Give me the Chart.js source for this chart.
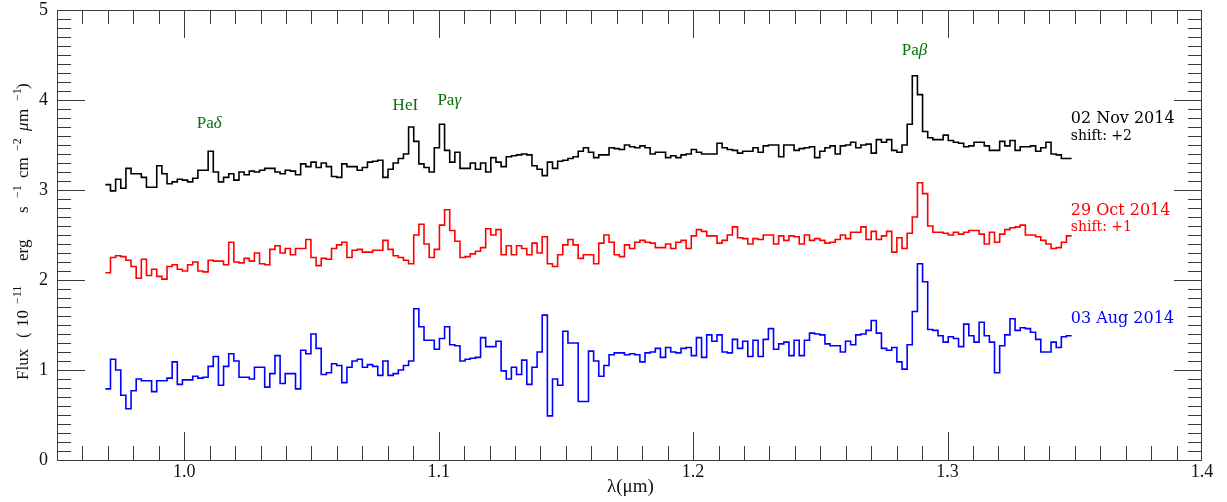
<!DOCTYPE html>
<html>
<head>
<meta charset="utf-8">
<script src="https://cdn.jsdelivr.net/npm/chart.js@4"></script>
<style>
  body { margin: 0; background: #fff; }
  #myChart { display: block; }
</style>
</head>
<body>
<canvas id="myChart" width="1227" height="502"></canvas>
<script>
// wavelength grid of the binned spectra (micron)
var lambdaStart = 0.969;
var binWidth = 0.00202;

// 02 Nov 2014, already shifted by +2
var fluxNov02 = [3.06,2.99,3.12,3.02,3.24,3.18,3.18,3.14,3.03,3.03,
  3.27,3.18,3.07,3.09,3.12,3.11,3.09,3.13,3.22,3.22,
  3.43,3.20,3.09,3.14,3.18,3.11,3.20,3.17,3.21,3.20,
  3.22,3.24,3.24,3.20,3.18,3.22,3.21,3.17,3.29,3.26,
  3.31,3.25,3.30,3.26,3.15,3.14,3.29,3.26,3.26,3.22,
  3.25,3.31,3.32,3.33,3.14,3.23,3.30,3.35,3.40,3.70,
  3.54,3.29,3.25,3.20,3.47,3.73,3.44,3.31,3.42,3.24,
  3.24,3.30,3.23,3.30,3.20,3.36,3.31,3.26,3.37,3.38,
  3.39,3.40,3.39,3.27,3.23,3.16,3.31,3.24,3.32,3.33,
  3.35,3.37,3.43,3.47,3.42,3.36,3.39,3.39,3.47,3.46,
  3.45,3.50,3.48,3.47,3.49,3.47,3.40,3.42,3.42,3.36,
  3.38,3.36,3.39,3.40,3.45,3.42,3.40,3.40,3.40,3.52,
  3.47,3.45,3.44,3.41,3.43,3.43,3.47,3.42,3.49,3.50,
  3.50,3.37,3.50,3.50,3.44,3.46,3.47,3.48,3.36,3.43,
  3.47,3.49,3.40,3.49,3.50,3.53,3.47,3.50,3.51,3.41,
  3.56,3.53,3.56,3.44,3.42,3.50,3.73,4.27,4.06,3.65,
  3.58,3.56,3.56,3.61,3.55,3.53,3.52,3.48,3.49,3.53,
  3.53,3.49,3.44,3.44,3.54,3.49,3.55,3.44,3.48,3.48,
  3.49,3.43,3.47,3.53,3.40,3.39,3.35,3.35];

// 29 Oct 2014, shifted by +1
var fluxOct29 = [2.08,2.25,2.27,2.26,2.22,2.15,2.02,2.23,2.05,2.12,
  2.04,2.01,2.15,2.17,2.12,2.10,2.17,2.20,2.10,2.09,
  2.22,2.21,2.21,2.17,2.42,2.20,2.19,2.24,2.21,2.30,
  2.18,2.17,2.34,2.38,2.30,2.35,2.28,2.35,2.35,2.45,
  2.25,2.16,2.24,2.23,2.35,2.39,2.42,2.25,2.33,2.34,
  2.31,2.31,2.33,2.33,2.44,2.34,2.27,2.25,2.22,2.18,
  2.50,2.62,2.40,2.25,2.34,2.61,2.78,2.55,2.43,2.25,
  2.26,2.29,2.32,2.36,2.57,2.50,2.56,2.28,2.38,2.28,
  2.38,2.35,2.28,2.41,2.30,2.48,2.18,2.15,2.28,2.39,
  2.45,2.39,2.24,2.28,2.28,2.18,2.41,2.50,2.42,2.28,
  2.26,2.39,2.35,2.42,2.44,2.42,2.41,2.36,2.36,2.40,
  2.35,2.42,2.44,2.35,2.49,2.56,2.54,2.49,2.49,2.41,
  2.44,2.50,2.59,2.47,2.46,2.40,2.46,2.45,2.50,2.50,
  2.40,2.49,2.44,2.49,2.48,2.40,2.50,2.44,2.46,2.44,
  2.41,2.42,2.45,2.50,2.46,2.53,2.53,2.59,2.45,2.54,
  2.45,2.49,2.54,2.31,2.47,2.35,2.52,2.70,3.08,2.96,
  2.60,2.53,2.53,2.52,2.50,2.53,2.51,2.53,2.55,2.55,
  2.51,2.40,2.53,2.42,2.51,2.56,2.58,2.59,2.61,2.50,
  2.50,2.48,2.44,2.40,2.35,2.36,2.42,2.49];

// 03 Aug 2014, no shift
var fluxAug03 = [0.79,1.12,1.00,0.72,0.57,0.77,0.90,0.88,0.88,0.76,
  0.88,0.88,0.91,1.09,0.84,0.89,0.89,0.93,0.91,0.92,
  1.04,1.15,0.83,1.04,1.18,1.10,0.92,0.92,0.90,1.03,
  1.03,0.81,0.96,1.16,0.85,0.96,0.96,0.79,1.22,1.18,
  1.40,1.24,0.95,0.97,1.07,1.05,0.86,1.03,1.10,1.12,
  1.03,1.06,1.04,0.94,1.10,0.94,0.96,1.00,1.05,1.10,
  1.68,1.48,1.33,1.33,1.23,1.35,1.48,1.28,1.27,1.10,
  1.12,1.13,1.14,1.36,1.26,1.26,1.32,0.99,0.90,1.03,
  0.95,1.11,0.84,1.03,1.20,1.61,0.49,0.90,0.83,1.43,
  1.30,1.30,0.65,0.65,1.21,1.10,0.93,1.05,1.17,1.19,
  1.19,1.17,1.18,1.17,1.09,1.19,1.20,1.24,1.14,1.25,
  1.20,1.19,1.24,1.25,1.16,1.36,1.14,1.39,1.32,1.39,
  1.20,1.19,1.34,1.24,1.32,1.15,1.33,1.15,1.34,1.46,
  1.23,1.29,1.31,1.16,1.33,1.16,1.33,1.41,1.40,1.39,
  1.29,1.27,1.27,1.20,1.32,1.28,1.39,1.40,1.44,1.55,
  1.41,1.24,1.22,1.25,1.09,1.01,1.28,1.65,2.18,1.98,
  1.45,1.44,1.38,1.31,1.37,1.35,1.26,1.51,1.38,1.31,
  1.53,1.38,1.31,0.97,1.27,1.39,1.57,1.44,1.47,1.46,
  1.42,1.34,1.20,1.20,1.31,1.25,1.37,1.38];

var xTickValues = [1.0, 1.1, 1.2, 1.3, 1.4];
var xTickLabels = ["1.0", "1.1", "1.2", "1.3", "1.4"];
var yTickValues = [0, 1, 2, 3, 4, 5];
var yTickLabels = ["0", "1", "2", "3", "4", "5"];

// emission lines marked on the top spectrum
var lineNames = ["Pa", "HeI", "Pa", "Pa"];
var lineGreek = ["\u03b4", "", "\u03b3", "\u03b2"];
var lineWaves = [1.0049, 1.0819, 1.0995, 1.2820];
var lineLabelY = [3.69, 3.89, 3.95, 4.50];

var epochs = ["02 Nov 2014", "29 Oct 2014", "03 Aug 2014"];
var shifts = ["shift: +2", "shift: +1", ""];
var epochColors = ["#000000", "#ff0000", "#0000ff"];
var epochLabelX = 1.3484;
var epochLabelY = [3.74, 2.72, 1.52];
var shiftLabelY = [3.56, 2.55, 0];

var wavelengths = [];
for (var i = 0; i < fluxNov02.length; i++) {
  wavelengths.push(lambdaStart + i * binWidth);
}
var lambdaEnd = lambdaStart + fluxNov02.length * binWidth;

function toSteps(values) {
  var pts = values.map(function (v, i) { return { x: wavelengths[i], y: v }; });
  // close the last bin
  pts.push({ x: lambdaEnd, y: values[values.length - 1] });
  return pts;
}

var axisColor = "#3a3a3a";
var tickFont = "18px 'Liberation Serif'";

var framePlugin = {
  id: "frame",
  afterDatasetsDraw: function (chart) {
    var ctx = chart.ctx;
    var a = chart.chartArea;
    var xs = chart.scales.x;
    var ys = chart.scales.y;
    ctx.save();

    // box
    ctx.strokeStyle = axisColor;
    ctx.lineWidth = 1;
    ctx.strokeRect(Math.round(a.left) + 0.5, Math.round(a.top) + 0.5,
      Math.round(a.right - a.left) - 1, Math.round(a.bottom - a.top));

    // inward ticks, minor every 0.01 micron / 0.1 flux
    ctx.beginPath();
    for (var i = 96; i <= 139; i++) {
      var px = Math.round(xs.getPixelForValue(i / 100)) + 0.5;
      var len = i % 10 === 0 ? 28 : 14;
      ctx.moveTo(px, a.bottom); ctx.lineTo(px, a.bottom - len);
      ctx.moveTo(px, a.top); ctx.lineTo(px, a.top + len);
    }
    for (var j = 1; j <= 49; j++) {
      var py = Math.round(ys.getPixelForValue(j / 10)) + 0.5;
      var l2 = j % 10 === 0 ? 28 : 14;
      ctx.moveTo(a.left, py); ctx.lineTo(a.left + l2, py);
      ctx.moveTo(a.right, py); ctx.lineTo(a.right - l2, py);
    }
    ctx.stroke();

    // tick labels
    ctx.fillStyle = "#111";
    ctx.font = tickFont;
    ctx.textAlign = "center";
    ctx.textBaseline = "middle";
    xTickValues.forEach(function (v, k) {
      ctx.fillText(xTickLabels[k], xs.getPixelForValue(v), a.bottom + 12);
    });
    ctx.textAlign = "right";
    yTickValues.forEach(function (v, k) {
      ctx.fillText(yTickLabels[k], a.left - 9, ys.getPixelForValue(v));
    });

    // x title
    ctx.textAlign = "center";
    ctx.textBaseline = "alphabetic";
    ctx.font = "19px 'Liberation Serif'";
    ctx.fillText("\u03bb(\u03bcm)", (a.left + a.right) / 2 + 1, 492);

    // y title, drawn rotated; second number is the screen y where a piece starts
    var pieces = [
      ["Flux", 380, 0], ["(", 338, 0], ["10", 327, 0], ["\u221211", 304, 1],
      ["erg", 261, 0], ["s", 213, 0], ["\u22121", 198, 1],
      ["cm", 178, 0], ["\u22122", 151, 1], ["\u03bc", 131, 2], ["m", 122, 0],
      ["\u22121", 101, 1], [")", 89, 0]
    ];
    ctx.save();
    ctx.translate(28, 0);
    ctx.rotate(-Math.PI / 2);
    ctx.textAlign = "left";
    pieces.forEach(function (p) {
      if (p[2] === 1) {
        ctx.font = "12px 'Liberation Serif'";
        ctx.fillText(p[0], -p[1], -7);
      } else {
        ctx.font = (p[2] === 2 ? "italic " : "") + "17px 'Liberation Serif'";
        ctx.fillText(p[0], -p[1], 0);
      }
    });
    ctx.restore();

    // line identifications
    ctx.fillStyle = "#0a6e0a";
    ctx.textAlign = "left";
    lineNames.forEach(function (name, k) {
      var x0 = xs.getPixelForValue(lineWaves[k]);
      var y0 = ys.getPixelForValue(lineLabelY[k]);
      ctx.font = "17px 'Liberation Serif'";
      ctx.fillText(name, x0, y0);
      var w = ctx.measureText(name).width;
      ctx.font = "italic 17px 'Liberation Serif'";
      ctx.fillText(lineGreek[k], x0 + w, y0);
    });

    // epoch labels
    epochs.forEach(function (txt, k) {
      var x0 = xs.getPixelForValue(epochLabelX);
      ctx.fillStyle = epochColors[k];
      ctx.font = "16px 'DejaVu Serif'";
      ctx.fillText(txt, x0, ys.getPixelForValue(epochLabelY[k]));
      if (shifts[k]) {
        ctx.font = "14px 'DejaVu Serif'";
        ctx.fillText(shifts[k], x0, ys.getPixelForValue(shiftLabelY[k]));
      }
    });

    ctx.restore();
  }
};

function makeDataset(values, color) {
  return {
    data: toSteps(values),
    borderColor: color,
    borderWidth: 1.6,
    pointRadius: 0,
    stepped: true,
    fill: false,
    tension: 0
  };
}

var canvas = document.getElementById("myChart");
var myChart = new Chart(canvas, {
  type: "line",
  data: {
    datasets: [
      makeDataset(fluxNov02, epochColors[0]),
      makeDataset(fluxOct29, epochColors[1]),
      makeDataset(fluxAug03, epochColors[2])
    ]
  },
  options: {
    responsive: false,
    animation: false,
    devicePixelRatio: 1,
    layout: { padding: { left: 57, right: 25, top: 10, bottom: 42 } },
    plugins: { legend: { display: false }, tooltip: { enabled: false } },
    scales: {
      x: { type: "linear", min: 0.95, max: 1.4, display: false },
      y: { type: "linear", min: 0, max: 5, display: false }
    }
  },
  plugins: [framePlugin]
});
</script>
</body>
</html>
